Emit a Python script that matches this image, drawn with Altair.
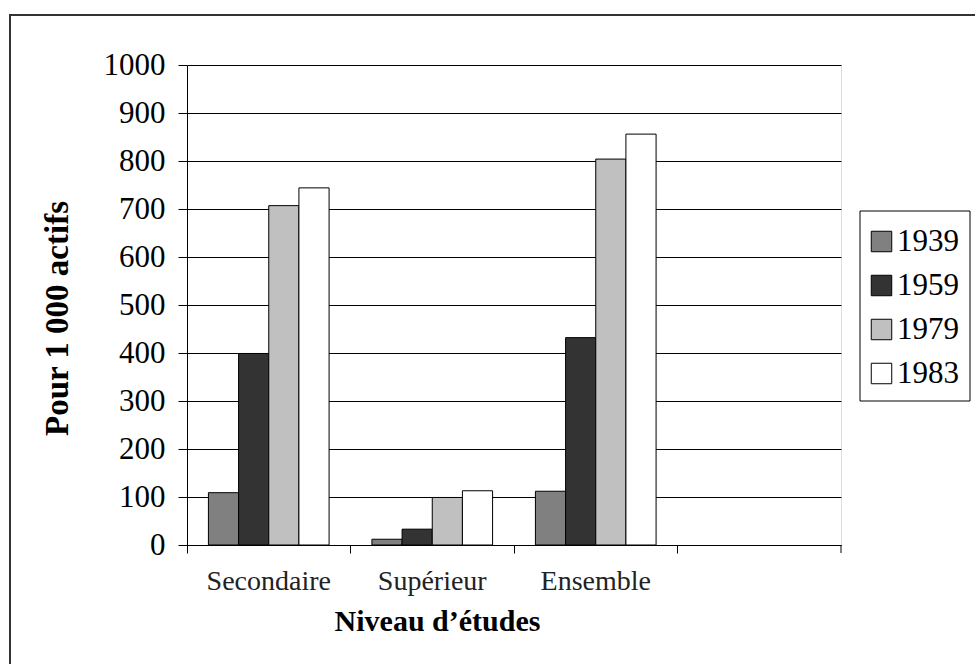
import altair as alt
import pandas as pd

categories = ["Secondaire", "Supérieur", "Ensemble"]
x_domain = categories + [""]
years = ["1939", "1959", "1979", "1983"]
v1939 = [109, 12, 112]
v1959 = [399, 33, 432]
v1979 = [707, 99, 804]
v1983 = [744, 113, 856]
colors = ["#808080", "#333333", "#c0c0c0", "#ffffff"]
y_ticks = list(range(0, 1001, 100))

rows = []
for yr, vals in zip(years, [v1939, v1959, v1979, v1983]):
    for cat, v in zip(categories, vals):
        rows.append({"niveau": cat, "annee": yr, "valeur": v})
df = pd.DataFrame(rows)

FONT = "Liberation Serif"
W, H = 654, 480

bars = alt.Chart(df).mark_bar(stroke="black", strokeWidth=1).encode(
    x=alt.X(
        "niveau:N",
        sort=x_domain,
        scale=alt.Scale(domain=x_domain, paddingInner=0, paddingOuter=0),
        axis=alt.Axis(
            title="Niveau d’études",
            labelAngle=0,
            bandPosition=0,
            tickSize=8,
            tickColor="black",
            domainColor="black",
            labelFont=FONT,
            labelFontSize=28,
            labelColor="#222222",
            labelPadding=14,
            titleFont=FONT,
            titleFontSize=30,
            titleFontWeight="bold",
            titleColor="black",
            titleX=250,
            titleY=76,
            titleBaseline="middle",
            titleAnchor="middle",
            grid=False,
        ),
    ),
    xOffset=alt.XOffset(
        "annee:N",
        sort=years,
        scale=alt.Scale(domain=years, paddingOuter=0.71, paddingInner=0),
    ),
    y=alt.Y(
        "valeur:Q",
        scale=alt.Scale(domain=[0, 1000], nice=False),
        axis=alt.Axis(
            title="Pour 1 000 actifs",
            values=y_ticks,
            format="d",
            tickSize=9,
            tickColor="black",
            domainColor="black",
            gridColor="black",
            gridOpacity=1,
            labelFont=FONT,
            labelFontSize=31,
            labelColor="black",
            labelPadding=13,
            titleFont=FONT,
            titleFontSize=33,
            titleFontWeight="bold",
            titleColor="black",
            titleX=-130,
            titleY=253,
            titleBaseline="middle",
            titleAnchor="middle",
        ),
    ),
    color=alt.Color(
        "annee:N",
        sort=years,
        scale=alt.Scale(domain=years, range=colors),
        legend=alt.Legend(
            title=None,
            orient="none",
            legendX=679,
            legendY=161,
            symbolType="square",
            symbolSize=420,
            symbolStrokeColor="black",
            symbolStrokeWidth=1,
            symbolOpacity=1,
            labelFont=FONT,
            labelFontSize=31,
            labelColor="black",
            labelOffset=0,
            rowPadding=12,
            padding=0,
        ),
    ),
)

end_tick = alt.Chart(pd.DataFrame({"a": [0]})).mark_rule(color="black").encode(
    x=alt.value(W), y=alt.value(H), y2=alt.value(H + 8)
)

frame = alt.Chart(pd.DataFrame({"a": [0]})).mark_rect(
    fillOpacity=0, stroke="#333333", strokeWidth=2
).encode(
    x=alt.value(-177), x2=alt.value(W + 150), y=alt.value(-50), y2=alt.value(H + 150)
)

legend_box = alt.Chart(pd.DataFrame({"a": [0]})).mark_rect(
    fill="white", stroke="black", strokeWidth=1
).encode(
    x=alt.value(673), x2=alt.value(783), y=alt.value(146), y2=alt.value(336)
)

chart = alt.layer(frame, legend_box, bars, end_tick).properties(
    width=W,
    height=H,
    autosize=alt.AutoSizeParams(type="none"),
    padding={"left": 187, "top": 65, "right": 134, "bottom": 119},
).configure_view(stroke=None).configure(background="white")

chart.save("out.html", embed_options={"renderer": "svg", "actions": False})
